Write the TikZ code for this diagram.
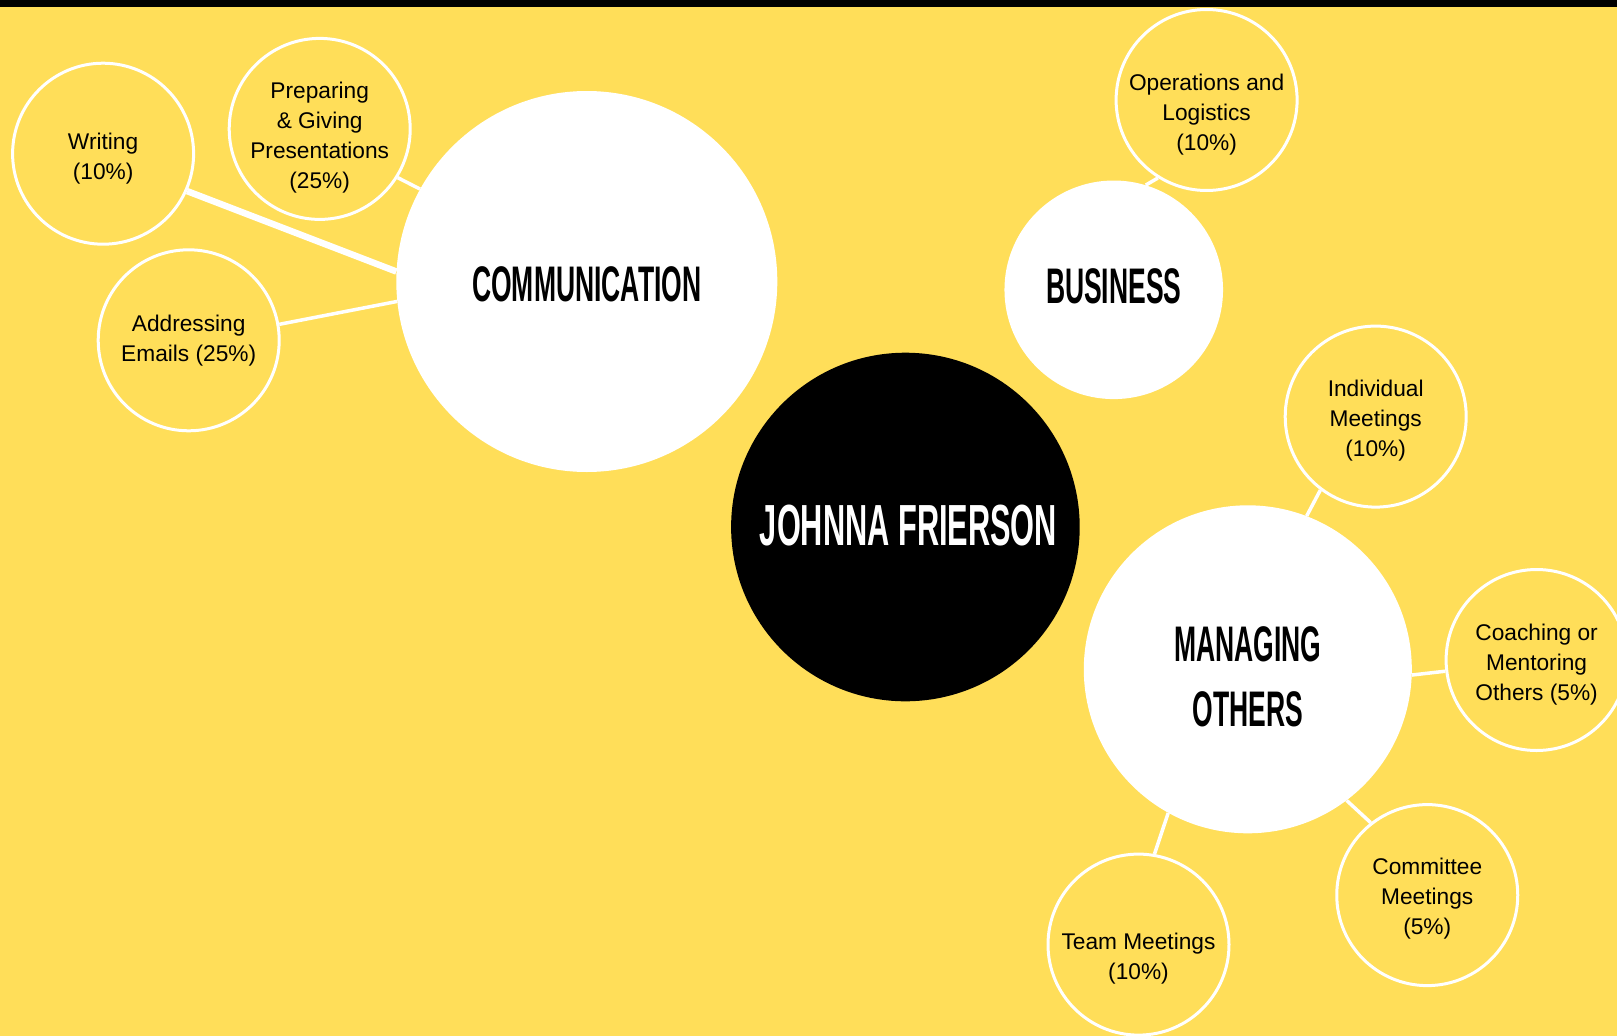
\documentclass[tikz,border=0pt]{standalone}
\usepackage{fontspec}
\setmainfont{Liberation Sans}
\newfontfamily\bebas[FakeStretch=0.53]{Liberation Sans}
\definecolor{bg}{HTML}{FFDE59}
\begin{document}
\begin{tikzpicture}[x=1pt,y=-1pt,
  big/.style={circle,inner sep=0,fill=white},
  small/.style={circle,inner sep=0,minimum size=181pt,draw=white,line width=3pt,fill=bg},
  lbl/.style={align=center,font=\fontsize{22.7}{30}\selectfont,text=black,inner sep=0},
  ttl/.style={align=center,inner sep=0,text=black,font=\bebas\bfseries\fontsize{50}{65}\selectfont},
  link/.style={draw=white,line width=3.5pt}]
\useasboundingbox (0,0) rectangle (1617,1036);
\clip (0,0) rectangle (1617,1036);
\fill[bg] (0,0) rectangle (1617,1036);
\fill[black] (0,0) rectangle (1617,7);
% main circles
\node[big,minimum size=381pt] (comm) at (586.8,281.5) {};
\node[big,fill=black,minimum size=348.6pt] (jf) at (905.4,527) {};
\node[big,minimum size=218.6pt] (bus) at (1113.75,289.8) {};
\node[big,minimum size=328pt] (mng) at (1247.8,669.3) {};
% small circles
\node[small] (wri) at (103.1,153.7) {};
\node[small] (prep) at (319.7,128.9) {};
\node[small] (addr) at (188.7,340.3) {};
\node[small] (ops) at (1206.6,100) {};
\node[small] (ind) at (1375.7,416.6) {};
\node[small] (coach) at (1536.6,660) {};
\node[small] (comt) at (1427.25,895.1) {};
\node[small] (team) at (1138.5,944.6) {};
% connectors
\draw[link,line width=6.5pt] (wri.-24) -- (comm.177);
\draw[link] (prep.-32) -- (comm.151.6);
\draw[link] (addr.10.9) -- (comm.186.8);
\draw[link] (ops.238.5) -- (bus.73.3);
\draw[link] (ind.233.6) -- (mng.69.5);
\draw[link] (coach.187) -- (mng.-2.5);
\draw[link] (comt.128.3) -- (mng.-53.1);
\draw[link] (team.80.2) -- (mng.241.5);
% titles
\node[ttl] (commt) at (586.8,284.6) {COMMUNICATION};
\node[ttl,text=white,font=\bebas\bfseries\fontsize{58}{65}\selectfont] (jft) at (908.5,526) {JOHNNA FRIERSON};
\node[ttl] (bust) at (1113.75,286.7) {BUSINESS};
\node[ttl] (mngt) at (1247.8,677) {MANAGING\\OTHERS};
% labels
\node[lbl] (writ) at (103.1,158.2) {Writing\\(10\%)};
\node[lbl] (prept) at (319.7,138.1) {Preparing\\\& Giving\\Presentations\\(25\%)};
\node[lbl] (addrt) at (188.7,340.7) {Addressing\\Emails (25\%)};
\node[lbl] (opst) at (1206.6,114.9) {Operations and\\Logistics\\(10\%)};
\node[lbl] (indt) at (1375.7,420.7) {Individual\\Meetings\\(10\%)};
\node[lbl] (coacht) at (1536.6,664.5) {Coaching or\\Mentoring\\Others (5\%)};
\node[lbl] (comtt) at (1427.25,898.6) {Committee\\Meetings\\(5\%)};
\node[lbl] (teamt) at (1138.5,958.5) {Team Meetings\\(10\%)};
\end{tikzpicture}
\end{document}
